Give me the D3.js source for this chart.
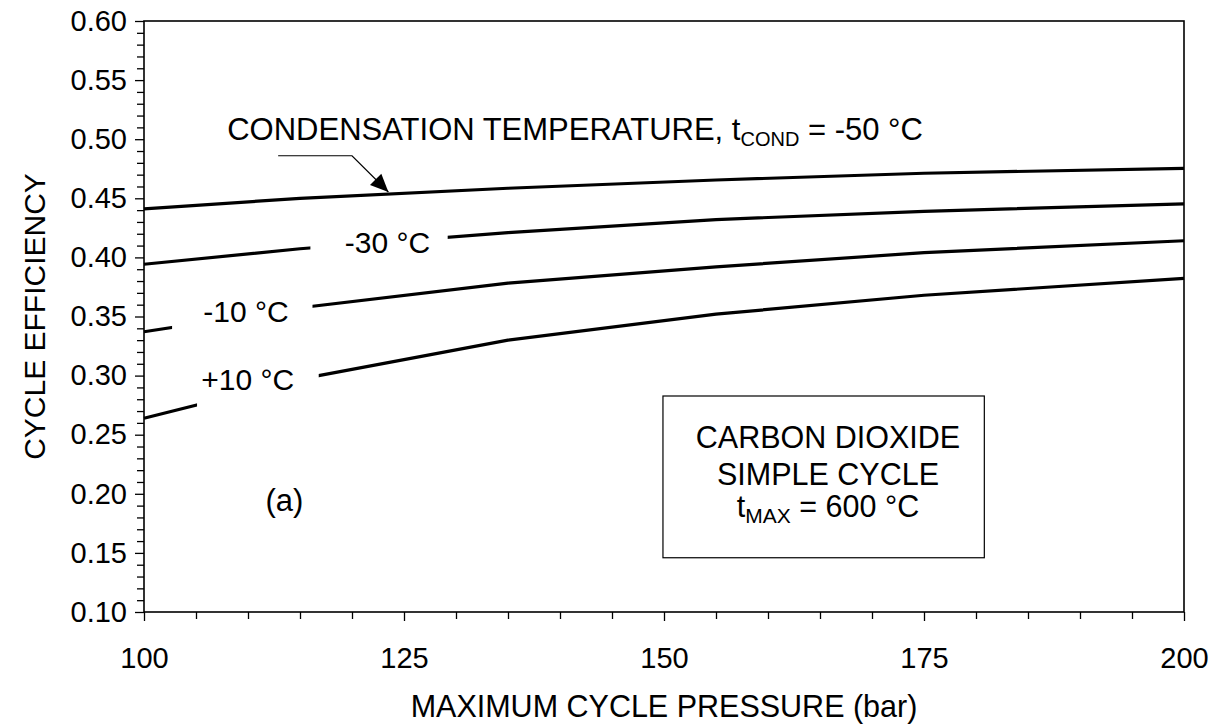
<!DOCTYPE html>
<html><head><meta charset="utf-8">
<script src="https://cdn.jsdelivr.net/npm/d3@7"></script>
<style>
body{margin:0;background:#fff}
svg{display:block}
text{font-family:"Liberation Sans",Arial,sans-serif;fill:#000}
</style>
</head><body>
<svg id="c" width="1218" height="728"></svg>
<script>
// ---- data ----
const pressures = [100, 115, 135, 155, 175, 200];
const seriesLabels = ["-50 °C", "-30 °C", "-10 °C", "+10 °C"];
const effM50 = [0.441, 0.450, 0.4585, 0.4655, 0.4712, 0.4754];
const effM30 = [0.3942, 0.4073, 0.421, 0.432, 0.439, 0.4452];
const effM10 = [0.3371, 0.3574, 0.3782, 0.392, 0.404, 0.4141];
const effP10 = [0.2639, 0.297, 0.330, 0.352, 0.368, 0.3823];
const xMajorTicks = [100, 125, 150, 175, 200];
const yMajorTicks = [0.10, 0.15, 0.20, 0.25, 0.30, 0.35, 0.40, 0.45, 0.50, 0.55, 0.60];

// ---- layout ----
const svg = d3.select("#c");
const L = 144, R = 1184, T = 21, B = 612;
const x = d3.scaleLinear().domain([100, 200]).range([L, R]);
const y = d3.scaleLinear().domain([0.10, 0.60]).range([B, T]);
const FONT = 29;

// minor ticks
const xMinor = d3.range(100, 200.01, 5).filter(v => v % 25 !== 0);
const yMinor = d3.range(10, 60.01, 1).map(v => v / 100).filter(v => Math.round(v * 100) % 5 !== 0);

const gx = svg.append("g").attr("transform", `translate(0,${B})`);
gx.call(d3.axisBottom(x).tickValues(xMajorTicks).tickSize(9).tickPadding(26).tickFormat(d3.format("d")));
gx.append("g").call(d3.axisBottom(x).tickValues(xMinor).tickSize(7).tickFormat(""));
gx.selectAll(".domain").remove();
gx.selectAll("line").attr("stroke", "#000").attr("stroke-width", 1.3);
gx.selectAll("text").style("font-size", FONT + "px");

const gy = svg.append("g").attr("transform", `translate(${L},0)`);
gy.call(d3.axisLeft(y).tickValues(yMajorTicks).tickSize(9).tickPadding(8).tickFormat(d3.format(".2f")));
gy.append("g").call(d3.axisLeft(y).tickValues(yMinor).tickSize(7).tickFormat(""));
gy.selectAll(".domain").remove();
gy.selectAll("line").attr("stroke", "#000").attr("stroke-width", 1.3);
gy.selectAll("text").style("font-size", FONT + "px");

// frame
svg.append("rect").attr("x", L).attr("y", T).attr("width", R - L).attr("height", B - T)
  .attr("fill", "none").attr("stroke", "#000").attr("stroke-width", 1.6);

// axis titles
svg.append("text").attr("x", (L + R) / 2).attr("y", 717).attr("text-anchor", "middle")
  .style("font-size", "30.5px").text("MAXIMUM CYCLE PRESSURE (bar)");
svg.append("text").attr("transform", `translate(45,${(T + B) / 2}) rotate(-90)`).attr("text-anchor", "middle")
  .style("font-size", "30px").text("CYCLE EFFICIENCY");

// ---- curves with label gaps ----
const series = [
  {vals: effM50, gap: null},
  {vals: effM30, gap: [116.0, 129.2]},
  {vals: effM10, gap: [102.7, 116.2]},
  {vals: effP10, gap: [105.1, 116.8]}
];
const line = d3.line().x(d => x(d[0])).y(d => y(d[1]));
const defs = svg.append("defs");
series.forEach((s, i) => {
  const pts = pressures.map((p, j) => [p, s.vals[j]]);
  const path = svg.append("path").attr("d", line(pts)).attr("fill", "none")
    .attr("stroke", "#000").attr("stroke-width", 3.2).attr("stroke-linejoin", "round");
  if (s.gap) {
    const m = defs.append("mask").attr("id", "gap" + i).attr("maskUnits", "userSpaceOnUse")
      .attr("x", 0).attr("y", 0).attr("width", 1218).attr("height", 728);
    m.append("rect").attr("x", 0).attr("y", 0).attr("width", 1218).attr("height", 728).attr("fill", "#fff");
    m.append("rect").attr("x", x(s.gap[0])).attr("y", 0).attr("width", x(s.gap[1]) - x(s.gap[0]))
      .attr("height", 728).attr("fill", "#000");
    path.attr("mask", `url(#gap${i})`);
  }
});

// curve labels
const curveLabels = [
  {t: seriesLabels[1], p: 119.3, v: 0.4035},
  {t: seriesLabels[2], p: 105.7, v: 0.3456},
  {t: seriesLabels[3], p: 105.5, v: 0.2878}
];
curveLabels.forEach(c => {
  svg.append("text").attr("x", x(c.p)).attr("y", y(c.v)).style("font-size", "30px").text(c.t);
});

// top annotation
const ann = svg.append("text").attr("x", x(108.0)).attr("y", y(0.4997)).style("font-size", "31px");
ann.append("tspan").text("CONDENSATION TEMPERATURE, t");
ann.append("tspan").attr("dy", 6).style("font-size", "20px").text("COND");
ann.append("tspan").attr("dy", -6).text(" = " + seriesLabels[0]);

// arrow
const a0 = [x(112.9), y(0.486)], a1 = [x(120.0), y(0.486)], tip = [x(123.5), y(0.4553)];
svg.append("path").attr("d", `M${a0[0]},${a0[1]}L${a1[0]},${a1[1]}L${tip[0]},${tip[1]}`)
  .attr("fill", "none").attr("stroke", "#000").attr("stroke-width", 1.2);
{
  const dx = tip[0] - a1[0], dy = tip[1] - a1[1], len = Math.hypot(dx, dy);
  const ux = dx / len, uy = dy / len, hl = 18, hw = 8;
  const bx = tip[0] - ux * hl, by = tip[1] - uy * hl;
  svg.append("path").attr("d",
    `M${tip[0]},${tip[1]}L${bx - uy * hw},${by + ux * hw}L${bx + uy * hw},${by - ux * hw}Z`)
    .attr("fill", "#000");
}

// (a)
svg.append("text").attr("x", x(113.5)).attr("y", y(0.1855)).attr("text-anchor", "middle")
  .style("font-size", "31px").text("(a)");

// info box
const bx0 = x(149.9), bx1 = x(180.8), byTop = 396, byBot = y(0.1459);
svg.append("rect").attr("x", bx0).attr("y", byTop).attr("width", bx1 - bx0).attr("height", byBot - byTop)
  .attr("fill", "#fff").attr("stroke", "#000").attr("stroke-width", 1.2);
const cx = 828;
svg.append("text").attr("x", cx).attr("y", 448.3).attr("text-anchor", "middle").style("font-size", "30.5px").text("CARBON DIOXIDE");
svg.append("text").attr("x", cx).attr("y", 485).attr("text-anchor", "middle").style("font-size", "30.5px").text("SIMPLE CYCLE");
const tm = svg.append("text").attr("x", cx).attr("y", 516.7).attr("text-anchor", "middle").style("font-size", "30.5px");
tm.append("tspan").text("t");
tm.append("tspan").attr("dy", 6).style("font-size", "21px").text("MAX");
tm.append("tspan").attr("dy", -6).text(" = 600 °C");
</script>
</body></html>
